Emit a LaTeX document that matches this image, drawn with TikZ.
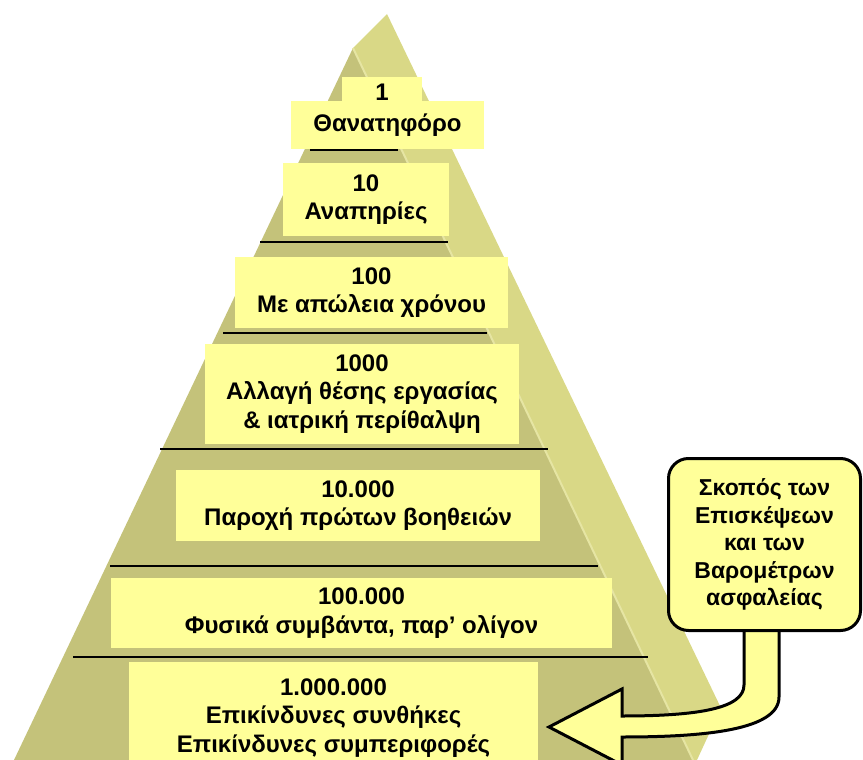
\documentclass[tikz,border=0pt]{standalone}
\usepackage{fontspec}
\setmainfont{Liberation Sans}
\begin{document}
\begin{tikzpicture}[x=1pt,y=-1pt,
  lvlbox/.style={fill=paleyellow,inner sep=0pt,align=center,font=\bfseries\fontsize{24}{28.5}\selectfont},
  sepline/.style={line width=1.8pt},
  goalbox/.style={draw,line width=3pt,fill=paleyellow,rounded corners=20pt,align=center,inner sep=0pt,font=\bfseries\fontsize{23}{27.5}\selectfont}]
\definecolor{paleyellow}{HTML}{FFFF99}
\definecolor{olivefront}{HTML}{C4C27A}
\definecolor{oliveside}{HTML}{D9D886}
\definecolor{olivelight}{HTML}{E6E5A3}
\useasboundingbox (0,0) rectangle (863,760);
\clip (0,0) rectangle (863,760);
\fill[oliveside] (353,48) -- (387,14) -- (721,708) -- (697,760) -- (693,760) -- cycle;
\fill[olivefront] (353,48) -- (693,760) -- (14,760) -- cycle;
\draw[olivelight,line width=2pt] (353,48) -- (693,760);
  \foreach \y/\xa/\xb in {150/310/398,242/260/448,333/223/487,449/160/548,566/110/598,657/73/648}
  {  \draw[sepline] (\xa,\y) -- (\xb,\y);}
\node[lvlbox,minimum width=80,minimum height=31] (lvlone) at (382,92.5) {1};
\node[lvlbox,minimum width=193,minimum height=48] (lvloneb) at (387.5,125) {Θανατηφόρο};
\node[lvlbox,minimum width=166,minimum height=73] (lvltwo) at (366,199.5) {10\\Αναπηρίες};
\node[lvlbox,minimum width=273,minimum height=71] (lvlthree) at (371.5,292.5) {100\\Με απώλεια χρόνου};
\node[lvlbox,minimum width=314,minimum height=100] (lvlfour) at (362,394) {1000\\Αλλαγή θέσης εργασίας\\\& ιατρική περίθαλψη};
\node[lvlbox,minimum width=364,minimum height=71] (lvlfive) at (358,505.5) {10.000\\Παροχή πρώτων βοηθειών};
\node[lvlbox,minimum width=501,minimum height=70] (lvlsix) at (361.5,613) {100.000\\Φυσικά συμβάντα, παρ’ ολίγον};
\node[lvlbox,minimum width=409,minimum height=112] (lvlseven) at (333.5,718) {1.000.000\\Επικίνδυνες συνθήκες\\Επικίνδυνες συμπεριφορές};
\draw[line width=3pt,fill=paleyellow] (744,625) -- (744,685) .. controls (744,708) and (700,716) .. (622,716)
  -- (622,689) -- (549,727) -- (622,765) -- (622,737) .. controls (705,737) and (779,730) .. (779,697) -- (779,625) -- cycle;
\node[goalbox,minimum width=192,minimum height=172] (goal) at (764.5,544.5) {Σκοπός των\\Επισκέψεων\\και των\\Βαρομέτρων\\ασφαλείας};
\end{tikzpicture}
\end{document}
